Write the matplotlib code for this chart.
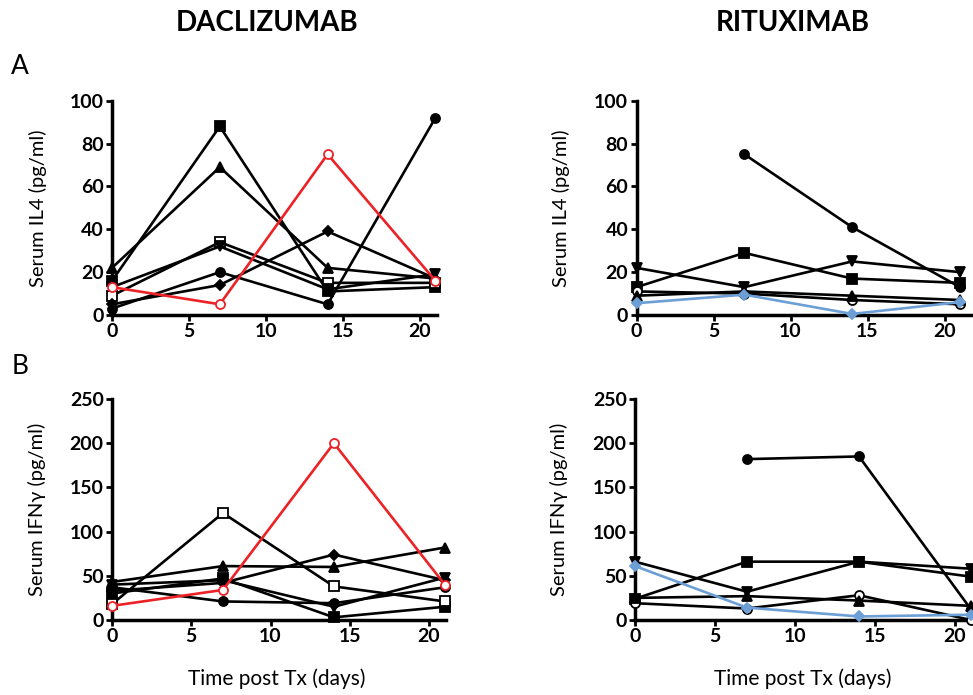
import numpy as np
import matplotlib
matplotlib.use('Agg')
import matplotlib.pyplot as plt

plt.rcParams['font.family'] = ['Lato', 'DejaVu Sans']

days = [0, 7, 14, 21]

# daclizumab, IL4 (pg/ml)
dac_il4_sq = [16, 88, 11, 13]
dac_il4_tri = [22, 69, 22, 17]
dac_il4_osq = [9, 34, 15, 15]
dac_il4_vtri = [13, 32, 12, 19]
dac_il4_dia = [5, 14, 39, 17]
dac_il4_circ = [3, 20, 5, 92]
dac_il4_red = [13, 5, 75, 16]

# daclizumab, IFNg (pg/ml)
dac_ifn_sq = [30, 47, 3, 15]
dac_ifn_tri = [43, 61, 60, 82]
dac_ifn_osq = [18, 121, 38, 21]
dac_ifn_vtri = [40, 45, 15, 48]
dac_ifn_dia = [33, 42, 74, 45]
dac_ifn_circ = [37, 21, 19, 37]
dac_ifn_red = [16, 34, 200, 40]

# rituximab, IL4 (pg/ml)
rit_il4_circ = [np.nan, 75, 41, 13]
rit_il4_sq = [13, 29, 17, 15]
rit_il4_vtri = [22, 13, 25, 20]
rit_il4_ocirc = [11, 10, 7, 5]
rit_il4_tri = [9, 11, 9, 7]
rit_il4_blue = [5.5, 9.5, 0.5, 6]

# rituximab, IFNg (pg/ml)
rit_ifn_circ = [np.nan, 182, 185, 12]
rit_ifn_sq = [24, 66, 66, 49]
rit_ifn_vtri = [66, 32, 66, 58]
rit_ifn_ocirc = [19, 13, 28, 0]
rit_ifn_tri = [25, 27, 22, 16]
rit_ifn_blue = [61, 14, 4, 6]

RED = '#ec2227'
BLUE = '#6b9fd6'
W, H = 973, 695


def series(ax, y, marker, color='black', face=None, ms=6.5):
    if face is None:
        face = color
    ax.plot(days, y, color=color, lw=1.9, marker=marker, ms=ms,
            mfc=face, mec=color, mew=1.3, clip_on=False, zorder=3)


def style(ax, ymax, ystep, xmax, ylabel, ylab_x, xlabel=None, xlab_x=0.5):
    ax.set_xlim(0, xmax)
    ax.set_ylim(0, ymax)
    ax.set_xticks([0, 5, 10, 15, 20])
    ax.set_yticks(np.arange(0, ymax + 1, ystep))
    for s in ['top', 'right']:
        ax.spines[s].set_visible(False)
    for s in ['left', 'bottom']:
        ax.spines[s].set_linewidth(2.5)
    ax.tick_params(direction='out', length=4, width=2, pad=2)
    for lab in ax.get_xticklabels() + ax.get_yticklabels():
        lab.set_fontsize(14)
        lab.set_fontweight('bold')
    ax.set_ylabel(ylabel, fontsize=14.5)
    ax.yaxis.set_label_coords(ylab_x, 0.5)
    if xlabel:
        ax.set_xlabel(xlabel, fontsize=15)
        ax.xaxis.set_label_coords(xlab_x, -0.22)


def main():
    fig = plt.figure(figsize=(W / 100, H / 100), dpi=100)

    top_b, top_h = 1 - 315 / H, 214.3 / H
    bot_b, bot_h = 1 - 620 / H, 221 / H

    # A: daclizumab IL4
    ax = fig.add_axes([112 / W, top_b, 21.1 * 15.4 / W, top_h])
    series(ax, dac_il4_sq, 's')
    series(ax, dac_il4_tri, '^')
    series(ax, dac_il4_osq, 's', face='white')
    series(ax, dac_il4_vtri, 'v')
    series(ax, dac_il4_dia, 'D', ms=5.5)
    series(ax, dac_il4_circ, 'o')
    series(ax, dac_il4_red, 'o', color=RED, face='white')
    style(ax, 100, 20, 21.1, 'Serum IL4 (pg/ml)', -65 / (21.1 * 15.4))

    # A: rituximab IL4
    ax = fig.add_axes([636.5 / W, top_b, 22.5 * 15.4 / W, top_h])
    series(ax, rit_il4_circ, 'o')
    series(ax, rit_il4_sq, 's')
    series(ax, rit_il4_vtri, 'v')
    series(ax, rit_il4_ocirc, 'o', face='white')
    series(ax, rit_il4_tri, '^')
    series(ax, rit_il4_blue, 'D', color=BLUE, ms=5.5)
    style(ax, 100, 20, 22.5, 'Serum IL4 (pg/ml)', -66 / (22.5 * 15.4))

    # B: daclizumab IFNg
    ax = fig.add_axes([112 / W, bot_b, 21.1 * 15.85 / W, bot_h])
    series(ax, dac_ifn_sq, 's')
    series(ax, dac_ifn_tri, '^')
    series(ax, dac_ifn_osq, 's', face='white')
    series(ax, dac_ifn_vtri, 'v')
    series(ax, dac_ifn_dia, 'D', ms=5.5)
    series(ax, dac_ifn_circ, 'o')
    series(ax, dac_ifn_red, 'o', color=RED, face='white')
    style(ax, 250, 50, 21.1, 'Serum IFN\u03b3 (pg/ml)', -66 / (21.1 * 15.85),
          'Time post Tx (days)', (277 - 112) / (21.1 * 15.85))

    # B: rituximab IFNg
    ax = fig.add_axes([635 / W, bot_b, 22.5 * 16.0 / W, bot_h])
    series(ax, rit_ifn_circ, 'o')
    series(ax, rit_ifn_sq, 's')
    series(ax, rit_ifn_vtri, 'v')
    series(ax, rit_ifn_ocirc, 'o', face='white')
    series(ax, rit_ifn_tri, '^')
    series(ax, rit_ifn_blue, 'D', color=BLUE, ms=5.5)
    style(ax, 250, 50, 22.5, 'Serum IFN\u03b3 (pg/ml)', -67 / (22.5 * 16.0),
          'Time post Tx (days)', (803 - 635) / (22.5 * 16.0))

    fig.text(267 / W, 1 - 23 / H, 'DACLIZUMAB', fontsize=20, fontweight='bold',
             ha='center', va='center')
    fig.text(793 / W, 1 - 23 / H, 'RITUXIMAB', fontsize=20, fontweight='bold',
             ha='center', va='center')
    fig.text(20 / W, 1 - 66 / H, 'A', fontsize=19, ha='center', va='center')
    fig.text(20 / W, 1 - 366 / H, 'B', fontsize=19, ha='center', va='center')

    fig.savefig('out.png', dpi=100)


if __name__ == '__main__':
    main()
